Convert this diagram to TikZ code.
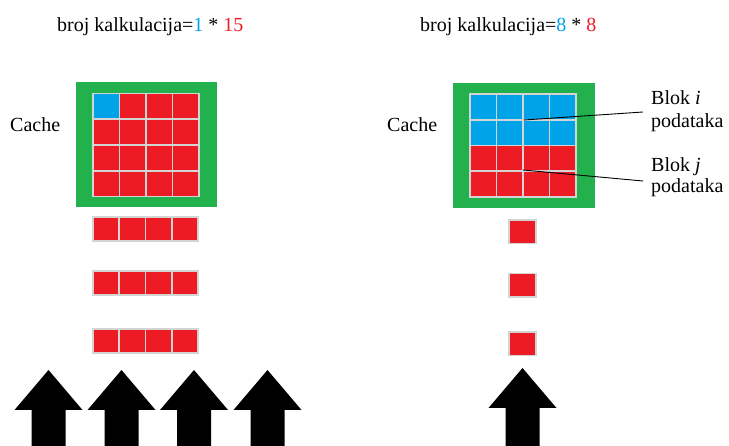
\documentclass[tikz,border=0pt]{standalone}
\usepackage{fontspec}
\setmainfont{LiberationSerif}[Extension=.ttf, UprightFont=*-Regular, ItalicFont=*-Italic, BoldFont=*-Bold, BoldItalicFont=*-BoldItalic]
\definecolor{cblue}{HTML}{00A2E8}
\definecolor{cred}{HTML}{ED1C24}
\definecolor{cgreen}{HTML}{22B14C}
\definecolor{cgrid}{HTML}{D4D4D4}
\tikzset{
  lbl/.style={anchor=base west, inner sep=0pt, font=\fontsize{20}{23}\selectfont},
  cachebox/.style={fill=cgreen, draw=none},
  redcell/.style={fill=cred, draw=cgrid, line width=1.6pt},
  bluecell/.style={fill=cblue, draw=cgrid, line width=1.6pt},
  bigarrow/.style={fill=black, draw=none},
  leader/.style={draw=black, line width=0.9pt},
}
\begin{document}
\begin{tikzpicture}[x=1pt,y=-1pt]
\useasboundingbox (0,0) rectangle (729,446);
% titles
\node[lbl] (t1) at (57,31.5) {broj kalkulacija={\color{cblue}1} * {\color{cred}15}};
\node[lbl] (t2) at (420,31.5) {broj kalkulacija={\color{cblue}8} * {\color{cred}8}};
% cache labels
\node[lbl] (c1) at (10,132) {Cache};
\node[lbl] (c2) at (387,132) {Cache};
% left cache
\path[cachebox] (76,82) rectangle (217,207);
\foreach \i in {0,...,3}{
  \foreach \j in {0,...,3}{
    \pgfmathtruncatemacro{\k}{\i+\j}
    \ifnum\k=0
      \path[bluecell] (93+26.5*\i,93.5+25.75*\j) rectangle ++(26.5,25.75);
    \else
      \path[redcell] (93+26.5*\i,93.5+25.75*\j) rectangle ++(26.5,25.75);
    \fi
  }
}
% right cache
\path[cachebox] (453,83) rectangle (595,208);
\foreach \i in {0,...,3}{
  \foreach \j in {0,1}{
    \path[bluecell] (470+26.5*\i,94+25.75*\j) rectangle ++(26.5,25.75);
  }
  \foreach \j in {2,3}{
    \path[redcell] (470+26.5*\i,94+25.75*\j) rectangle ++(26.5,25.75);
  }
}
% left rows
\foreach \y in {217,271,329}{
  \foreach \i in {0,...,3}{
    \path[redcell] (93+26.25*\i,\y) rectangle ++(26.25,24);
  }
}
% right single cells
\foreach \y in {220,273.5,332}{
  \path[redcell] (509,\y) rectangle ++(27,23.5);
}
% arrows
\foreach \cx in {48.5,121.5,194,267.5}{
  \path[bigarrow] (\cx,370) -- (\cx+34,410) -- (\cx+17,410) -- (\cx+17,447) -- (\cx-17,447) -- (\cx-17,410) -- (\cx-34,410) -- cycle;
}
\path[bigarrow] (522.5,368) -- (556.5,408) -- (539.5,408) -- (539.5,447) -- (505.5,447) -- (505.5,408) -- (488.5,408) -- cycle;
% labels with leaders
\node[lbl] (bi) at (651,105) {Blok \textit{i}};
\node[lbl] (pi) at (651,128) {podataka};
\node[lbl] (bj) at (651,171.5) {Blok \textit{j}};
\node[lbl] (pj) at (651,193) {podataka};
\coordinate (li) at (524,120);
\coordinate (lj) at (523,170);
\coordinate (ei) at (643,112);
\coordinate (ej) at (643,181);
\draw[leader] (li) -- (ei);
\draw[leader] (lj) -- (ej);
\end{tikzpicture}
\end{document}
